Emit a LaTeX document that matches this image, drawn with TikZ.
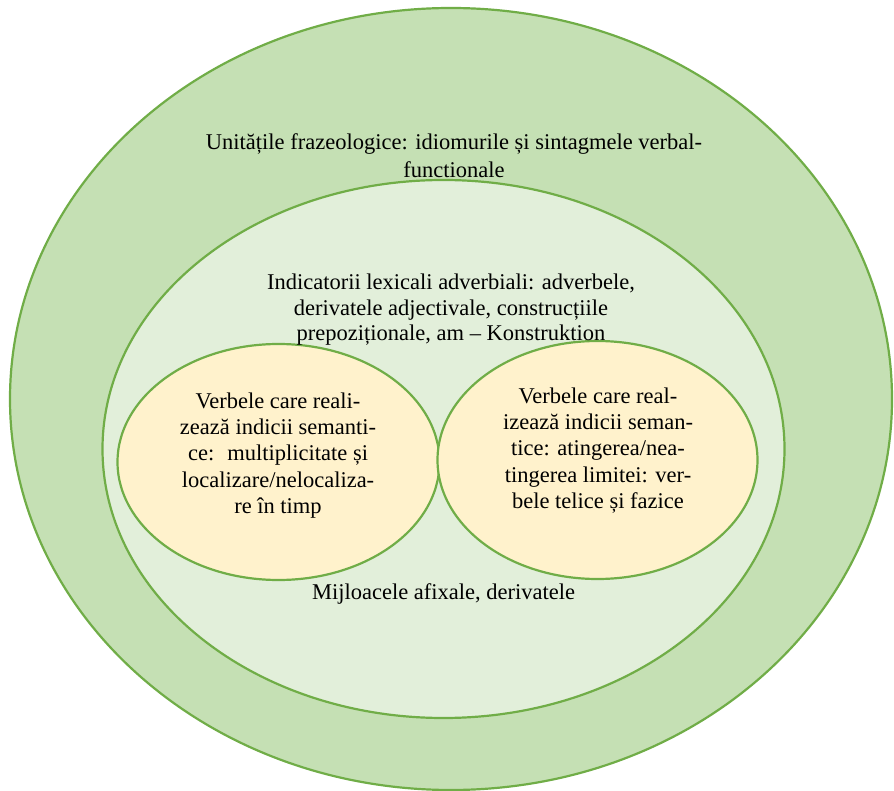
\documentclass[tikz,border=0pt]{standalone}
\usepackage{fontspec}
\setmainfont{Liberation Serif}
\usetikzlibrary{shapes.geometric}
\definecolor{outerfill}{HTML}{C5E0B4}
\definecolor{innerfill}{HTML}{E2EFDA}
\definecolor{yellowfill}{HTML}{FFF2CC}
\definecolor{edgegreen}{HTML}{70AD47}
\begin{document}
\begin{tikzpicture}[x=1pt,y=-1pt,
  ring/.style={ellipse, draw=edgegreen, line width=2.2pt, inner sep=0pt},
  lbl/.style={font=\fontsize{22.5}{26.3}\selectfont, align=center, inner sep=0pt, anchor=north, text=black}]
\useasboundingbox (0,0) rectangle (894,791);
\fill[white] (0,0) rectangle (894,791);
\node[ring, fill=outerfill, minimum width=882pt, minimum height=782pt] (outer) at (451,399) {};
\node[ring, fill=innerfill, minimum width=682pt, minimum height=538pt] (inner) at (443.5,449) {};
\node[ring, fill=yellowfill, minimum width=322pt, minimum height=236pt] (left) at (278.5,462) {};
\node[ring, fill=yellowfill, minimum width=320pt, minimum height=238pt] (right) at (597.5,460) {};
\node[lbl, font=\fontsize{22.5}{27.5}\selectfont] (touter) at (454,133.5) {Unitățile frazeologice: idiomurile și sintagmele verbal-\\functionale};
\node[lbl, font=\fontsize{22.5}{25.7}\selectfont] (tinner) at (451,273.5) {Indicatorii lexicali adverbiali: adverbele,\\derivatele adjectivale, construcțiile\\prepoziționale, am – Konstruktion};
\node[lbl] (tleft) at (278,392.5) {Verbele care reali-\\zează indicii semanti-\\ce:~ multiplicitate și\\localizare/nelocaliza-\\re în timp};
\node[lbl] (tright) at (598,387.5) {Verbele care real-\\izează indicii seman-\\tice: atingerea/nea-\\tingerea limitei: ver-\\bele telice și fazice};
\node[lbl] (tbottom) at (443.5,583.5) {Mijloacele afixale, derivatele};
\end{tikzpicture}
\end{document}
